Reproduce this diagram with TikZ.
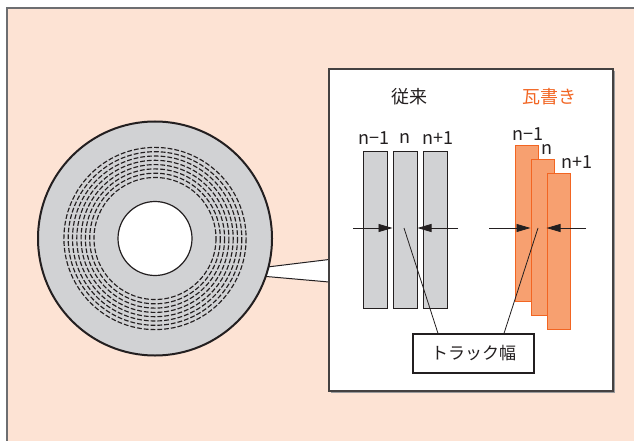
\documentclass[tikz,border=0pt]{standalone}
\usepackage{fontspec}
\setmainfont{Noto Sans CJK JP}
\usetikzlibrary{arrows.meta}
\definecolor{peach}{HTML}{FDE3D4}
\definecolor{framegray}{HTML}{6D6E71}
\definecolor{inkdark}{HTML}{231F20}
\definecolor{diskgray}{HTML}{D1D2D4}
\definecolor{shingle}{HTML}{F7A070}
\definecolor{shingleline}{HTML}{F26522}
\tikzset{
  x=1pt, y=-1pt,
  lbl/.style={inner sep=0pt, text=inkdark, font=\fontsize{18}{20}\selectfont},
  graybar/.style={draw=inkdark, line width=1pt, fill=diskgray, minimum width=24pt, minimum height=157pt, inner sep=0pt},
  orangebar/.style={draw=shingleline, line width=1pt, fill=shingle, minimum width=23.5pt, minimum height=156pt, inner sep=0pt},
  widtharrow/.style={draw=inkdark, line width=0.8pt, -{Triangle[length=14pt,width=8pt]}},
  leader/.style={draw=inkdark, line width=0.8pt},
  ring/.style={draw=inkdark, line width=1.15pt, dash pattern=on 4.8pt off 2pt},
}
\begin{document}
\begin{tikzpicture}
\useasboundingbox (0,0) rectangle (634,441);
\fill[white] (0,0) rectangle (634,441);
% peach background frame
\draw[fill=peach, draw=framegray, line width=1.5pt] (7,8) rectangle (660,470);

% callout wedge joining disk and panel
\fill[white] (255,268) -- (330,259) -- (330,282) -- (255,276) -- cycle;
\draw[inkdark, line width=1pt] (255,268.5) -- (329,259.5);
\draw[inkdark, line width=1pt] (255,275.5) -- (329,282);

% disk
\node[circle, draw=inkdark, line width=2pt, fill=diskgray, minimum size=234pt, inner sep=0pt] (disk) at (155,238.5) {};
\foreach \r in {61,65.3,69.6,73.9,78.2,82.5,86.8,91.1}
  \draw[ring] (disk.center) circle[radius=\r];
\node[circle, draw=inkdark, line width=1.2pt, fill=white, minimum size=74pt, inner sep=0pt] (hole) at (disk.center) {};

% detail panel
\fill[framegray!70] (331,71) rectangle (615,393);
\draw[fill=white, draw=inkdark!85, line width=1.2pt] (329,69) rectangle (613,391);

% headings
\node[lbl] (conv) at (409,97) {従来};
\node[lbl, text=shingleline] (shing) at (549,97) {瓦書き};

% conventional tracks
\node[graybar] (g1) at (375,229.5) {};
\node[graybar] (g2) at (405,229.5) {};
\node[graybar] (g3) at (435,229.5) {};
\node[lbl] (gl1) at (374,138) {n−1};
\node[lbl] (gl2) at (405,138) {n};
\node[lbl] (gl3) at (438,138) {n+1};

% shingled tracks
\node[orangebar] (o1) at (526.75,223) {};
\node[orangebar] (o2) at (542.75,237) {};
\node[orangebar] (o3) at (558.75,251) {};
\node[lbl] (ol1) at (528,134) {n−1};
\node[lbl] (ol2) at (547,149) {n};
\node[lbl] (ol3) at (577,162) {n+1};

% track-width dimension arrows
\coordinate (ga) at (353,228);
\coordinate (gb) at (458,228);
\coordinate (oa) at (489,228);
\coordinate (ob) at (586,228);
\draw[widtharrow] (ga) -- (g2.west |- ga);
\draw[widtharrow] (gb) -- (g2.east |- gb);
\draw[widtharrow] (oa) -- (o2.west |- oa);
\draw[widtharrow] (ob) -- (o3.west |- ob);

% label and leaders
\node[draw=inkdark, line width=1.2pt, fill=white, minimum width=121pt, minimum height=39pt, inner sep=0pt, font=\fontsize{17}{19}\selectfont, text=inkdark] (tw) at (473.5,353.5) {トラック幅};
\coordinate (gl) at (404,228);
\coordinate (ol) at (538,228);
\draw[leader] (gl) -- ([xshift=-35.5pt]tw.north);
\draw[leader] (ol) -- ([xshift=30.5pt]tw.north);
\end{tikzpicture}
\end{document}
